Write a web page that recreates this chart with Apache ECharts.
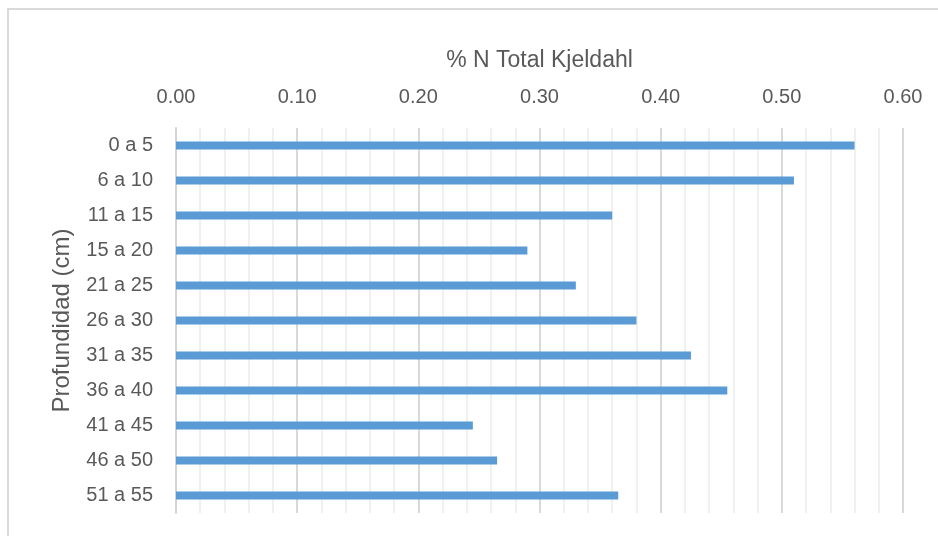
<!DOCTYPE html>
<html>
<head>
<meta charset="utf-8">
<script src="https://cdn.jsdelivr.net/npm/echarts@6/dist/echarts.min.js"></script>
<style>
  html, body { margin: 0; padding: 0; background: #fff; }
  #chart { width: 938px; height: 536px; }
</style>
</head>
<body>
<div id="chart"></div>
<script>
// Soil depth intervals (cm), top to bottom
const depths = ['0 a 5', '6 a 10', '11 a 15', '15 a 20', '21 a 25', '26 a 30',
                '31 a 35', '36 a 40', '41 a 45', '46 a 50', '51 a 55'];
// Total Kjeldahl nitrogen (%) per depth interval
const nitrogen = [0.56, 0.51, 0.36, 0.29, 0.33, 0.38, 0.425, 0.455, 0.245, 0.265, 0.365];
// Value axis ticks
const axisMin = 0;
const axisMax = 0.6;
const axisStep = 0.1;

const fontFamily = '"Liberation Sans", Arial, sans-serif';
const textColor = '#595959';

const chart = echarts.init(document.getElementById('chart'), null, { renderer: 'canvas' });
chart.setOption({
  animation: false,
  backgroundColor: '#ffffff',
  textStyle: { fontFamily: fontFamily },
  graphic: [{
    type: 'rect',
    shape: { x: 8, y: 9, width: 1000, height: 1000 },
    style: { fill: 'none', stroke: '#d9d9d9', lineWidth: 2 },
    silent: true
  }],
  grid: { left: 176, right: 35, top: 128, bottom: 23, containLabel: false },
  xAxis: {
    type: 'value',
    position: 'top',
    min: axisMin,
    max: axisMax,
    interval: axisStep,
    name: '% N Total Kjeldahl',
    nameLocation: 'middle',
    nameGap: 56,
    nameTextStyle: { color: textColor, fontSize: 23, fontFamily: fontFamily },
    axisLine: { show: false },
    axisTick: { show: false },
    axisLabel: {
      color: textColor,
      fontSize: 20,
      margin: 21,
      formatter: v => v.toFixed(2)
    },
    splitLine: { show: true, lineStyle: { color: '#d9d9d9', width: 2 } },
    minorTick: { show: false, splitNumber: 5 },
    minorSplitLine: { show: true, lineStyle: { color: '#f0f0f0', width: 2 } }
  },
  yAxis: {
    type: 'category',
    inverse: true,
    data: depths,
    name: 'Profundidad (cm)',
    nameLocation: 'middle',
    nameRotate: 90,
    nameGap: 102,
    nameTextStyle: { color: textColor, fontSize: 24, fontFamily: fontFamily },
    axisLine: { show: true, lineStyle: { color: '#d4d4d4', width: 2 } },
    axisTick: { show: false },
    axisLabel: { color: textColor, fontSize: 20, margin: 23 },
    splitLine: { show: false }
  },
  series: [{
    type: 'bar',
    data: nitrogen,
    barWidth: 8,
    itemStyle: { color: '#5b9bd5' }
  }]
});
</script>
</body>
</html>
